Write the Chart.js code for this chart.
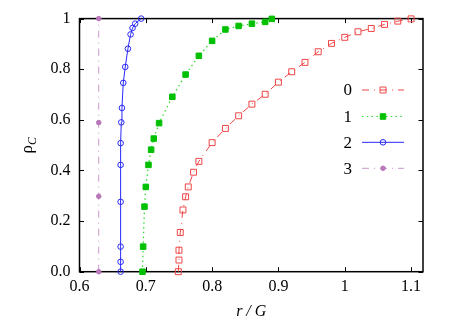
<!DOCTYPE html>
<html>
<head>
<meta charset="utf-8">
<script src="https://cdn.jsdelivr.net/npm/chart.js@4.4.0/dist/chart.umd.min.js"></script>
<style>
  html, body { margin: 0; padding: 0; background: #fff; }
</style>
</head>
<body>
<canvas id="c" width="458" height="324"></canvas>
<script>
// 数据
const seriesNames = ['0', '1', '2', '3'];

const r0 = [0.749, 0.750, 0.750, 0.752, 0.756, 0.760, 0.764, 0.772, 0.780, 0.800, 0.820, 0.840, 0.860,
            0.880, 0.900, 0.920, 0.940, 0.960, 0.980, 1.000, 1.020, 1.040, 1.060, 1.080, 1.100];
const rho0 = [0.000, 0.046, 0.085, 0.155, 0.244, 0.296, 0.335, 0.393, 0.436, 0.510, 0.566, 0.616, 0.662,
              0.701, 0.749, 0.790, 0.827, 0.869, 0.902, 0.926, 0.948, 0.961, 0.977, 0.990, 0.999];

const r1 = [0.695, 0.696, 0.698, 0.700, 0.704, 0.708, 0.712, 0.720, 0.740, 0.760, 0.780, 0.800, 0.820,
            0.840, 0.860, 0.880, 0.890];
const rho1 = [0.000, 0.099, 0.257, 0.335, 0.422, 0.482, 0.526, 0.587, 0.691, 0.779, 0.853, 0.912, 0.957,
              0.971, 0.980, 0.987, 0.999];

const r2 = [0.662, 0.662, 0.662, 0.662, 0.662, 0.662, 0.663, 0.664, 0.666, 0.669, 0.673, 0.677, 0.680,
            0.684, 0.693];
const rho2 = [0.000, 0.039, 0.099, 0.276, 0.422, 0.508, 0.590, 0.647, 0.746, 0.809, 0.881, 0.9375, 0.963,
              0.980, 1.000];

const r3 = [0.629, 0.629, 0.629, 0.629];
const rho3 = [0.000, 0.298, 0.589, 1.000];

const xTicks = [0.6, 0.7, 0.8, 0.9, 1, 1.1];
const xTickLabels = ['0.6', '0.7', '0.8', '0.9', '1', '1.1'];
const yTicks = [0, 0.2, 0.4, 0.6, 0.8, 1];
const yTickLabels = ['0.0', '0.2', '0.4', '0.6', '0.8', '1'];

const FONT = "'Liberation Serif', 'DejaVu Serif', serif";

function toPoints(xs, ys) {
  return xs.map((x, i) => ({ x: x, y: ys[i] }));
}

// 样式
const styles = [
  { color: 'rgb(240,70,70)', fill: 'rgba(0,0,0,0)', dash: [7, 5, 1, 5], point: 'rect', radius: 4.2, width: 1 },
  { color: 'rgb(40,220,40)', fill: 'rgb(0,192,0)', pointColor: 'rgb(0,192,0)', dash: [1.5, 3.3], point: 'rect', radius: 3.9, width: 1.2 },
  { color: 'rgb(40,40,250)', fill: 'rgba(0,0,0,0)', dash: [], point: 'circle', radius: 2.8, width: 1 },
  { color: 'rgb(200,150,200)', fill: 'rgb(185,120,185)', pointColor: 'rgb(185,120,185)', dash: [7, 5, 1, 5], point: 'circle', radius: 2.3, width: 1 }
];

const allX = [r0, r1, r2, r3];
const allY = [rho0, rho1, rho2, rho3];

const datasets = seriesNames.map((name, i) => {
  const s = styles[i];
  return {
    label: name,
    data: toPoints(allX[i], allY[i]),
    showLine: true,
    borderColor: s.color,
    borderWidth: s.width,
    borderDash: s.dash,
    backgroundColor: s.fill,
    pointStyle: s.point,
    pointRadius: s.radius,
    pointHoverRadius: s.radius,
    pointBorderColor: s.pointColor || s.color,
    pointBackgroundColor: s.fill,
    pointBorderWidth: 1,
    tension: 0,
    clip: false
  };
});

// 坐标框和内向刻度
const framePlugin = {
  id: 'frame',
  beforeDatasetsDraw(chart) {
    const { ctx, chartArea: a, scales } = chart;
    ctx.save();
    ctx.strokeStyle = '#000';
    ctx.lineWidth = 1.5;
    ctx.setLineDash([]);
    ctx.strokeRect(a.left, a.top, a.right - a.left, a.bottom - a.top);
    ctx.lineWidth = 1;
    const len = 4.5;
    ctx.beginPath();
    xTicks.forEach(v => {
      const px = Math.round(scales.x.getPixelForValue(v)) + 0.5;
      ctx.moveTo(px, a.bottom); ctx.lineTo(px, a.bottom - len);
      ctx.moveTo(px, a.top); ctx.lineTo(px, a.top + len);
    });
    yTicks.forEach(v => {
      const py = Math.round(scales.y.getPixelForValue(v)) + 0.5;
      ctx.moveTo(a.left, py); ctx.lineTo(a.left + len, py);
      ctx.moveTo(a.right, py); ctx.lineTo(a.right - len, py);
    });
    ctx.stroke();
    ctx.restore();
  },
  afterDraw(chart) {
    const { ctx, chartArea: a } = chart;
    ctx.save();
    ctx.fillStyle = '#000';
    // x 轴标题
    ctx.font = 'italic 16px ' + FONT;
    ctx.textAlign = 'center';
    ctx.textBaseline = 'middle';
    ctx.fillText('r / G', (a.left + a.right) / 2, 312);
    // y 轴标题 ρ_C
    const cy = (a.top + a.bottom) / 2;
    ctx.translate(29, cy);
    ctx.rotate(-Math.PI / 2);
    ctx.font = '17px ' + FONT;
    const w1 = ctx.measureText('ρ').width;
    ctx.font = 'italic 12px ' + FONT;
    const w2 = ctx.measureText('C').width;
    const x0 = -(w1 + w2) / 2;
    ctx.textAlign = 'left';
    ctx.textBaseline = 'alphabetic';
    ctx.font = '17px ' + FONT;
    ctx.fillText('ρ', x0, 3);
    ctx.font = 'italic 12px ' + FONT;
    ctx.fillText('C', x0 + w1, 7);
    ctx.restore();

    // 图例
    ctx.save();
    const lx = a.right - 71;
    const lineL = a.right - 61, lineR = a.right - 19, mx = a.right - 40;
    const rows = [90, 116.5, 142.3, 168.3];
    seriesNames.forEach((name, i) => {
      const s = styles[i];
      const y = rows[i];
      ctx.fillStyle = '#000';
      ctx.font = '17px ' + FONT;
      ctx.textAlign = 'right';
      ctx.textBaseline = 'middle';
      ctx.fillText(name, lx, y + 1);
      ctx.strokeStyle = s.color;
      ctx.lineWidth = s.width;
      ctx.setLineDash(s.dash);
      ctx.beginPath();
      ctx.moveTo(lineL, y); ctx.lineTo(lineR, y);
      ctx.stroke();
      ctx.setLineDash([]);
      ctx.lineWidth = 1;
      ctx.strokeStyle = s.pointColor || s.color;
      ctx.fillStyle = s.fill;
      ctx.beginPath();
      if (s.point === 'rect') {
        const h = Math.SQRT1_2 * s.radius;
        ctx.rect(mx - h, y - h, 2 * h, 2 * h);
      } else {
        ctx.arc(mx, y, s.radius, 0, Math.PI * 2);
      }
      ctx.fill();
      ctx.stroke();
    });
    ctx.restore();
  }
};

new Chart(document.getElementById('c'), {
  type: 'scatter',
  data: { datasets: datasets },
  options: {
    responsive: false,
    animation: false,
    devicePixelRatio: 1,
    layout: { padding: { left: 0, right: 35, top: 15, bottom: 0 } },
    plugins: { legend: { display: false }, tooltip: { enabled: false } },
    scales: {
      x: {
        type: 'linear',
        min: 0.6,
        max: 1.118,
        grid: { display: false, drawTicks: false },
        border: { display: false },
        afterBuildTicks: scale => { scale.ticks = xTicks.map(v => ({ value: v })); },
        afterFit: scale => { scale.height = 52.3; },
        ticks: {
          color: '#000',
          font: { family: FONT, size: 16 },
          padding: 5,
          maxRotation: 0,
          autoSkip: false,
          callback: (v) => xTickLabels[xTicks.findIndex(t => Math.abs(t - v) < 1e-6)]
        }
      },
      y: {
        type: 'linear',
        min: 0,
        max: 1,
        grid: { display: false, drawTicks: false },
        border: { display: false },
        afterBuildTicks: scale => { scale.ticks = yTicks.map(v => ({ value: v })); },
        afterFit: scale => { scale.width = 79.5; },
        ticks: {
          color: '#000',
          font: { family: FONT, size: 16 },
          padding: 9,
          autoSkip: false,
          callback: (v) => yTickLabels[yTicks.findIndex(t => Math.abs(t - v) < 1e-6)]
        }
      }
    }
  },
  plugins: [framePlugin]
});
</script>
</body>
</html>
